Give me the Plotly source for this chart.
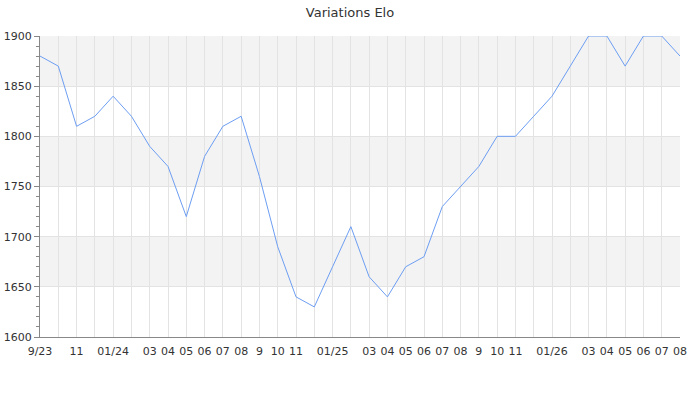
import plotly.graph_objects as go

# monthly Elo, 9/23 .. 08/26
months = list(range(36))
elo = [1880, 1870, 1810, 1820, 1840, 1820, 1790, 1770, 1720, 1780, 1810, 1820,
       1760, 1690, 1640, 1630, 1670, 1710, 1660, 1640, 1670, 1680, 1730, 1750,
       1770, 1800, 1800, 1820, 1840, 1870, 1900, 1900, 1870, 1900, 1900, 1880]
tick_text = ["9/23", "", "11", "", "01/24", "", "03", "04", "05", "06", "07", "08",
             "9", "10", "11", "", "01/25", "", "03", "04", "05", "06", "07", "08",
             "9", "10", "11", "", "01/26", "", "03", "04", "05", "06", "07", "08"]
bands = [(1650, 1700), (1750, 1800), (1850, 1900)]

fig = go.Figure(go.Scatter(x=months, y=elo, mode="lines",
                           line=dict(color="#6d9ef2", width=1),
                           hoverinfo="y"))

for lo, hi in bands:
    fig.add_shape(type="rect", xref="paper", yref="y", x0=0, x1=1, y0=lo, y1=hi,
                  fillcolor="#f3f3f3", line_width=0, layer="below")

fig.update_layout(
    width=700, height=400,
    title=dict(text="Variations Elo", x=0.5, xanchor="center", y=0.97, yanchor="middle",
               font=dict(size=13, color="#333")),
    font=dict(family="DejaVu Sans", size=11, color="#333"),
    margin=dict(l=40, r=20, t=36, b=63, autoexpand=False),
    plot_bgcolor="white", paper_bgcolor="white",
    showlegend=False,
)
fig.update_xaxes(range=[0, 35], tickvals=months, ticktext=tick_text, tickangle=0,
                 showgrid=True, gridcolor="#e3e3e3", gridwidth=1,
                 showline=True, linecolor="#888", linewidth=1,
                 ticks="", ticklabelstandoff=4, zeroline=False, automargin=False)
fig.update_yaxes(range=[1600, 1900], dtick=50, showgrid=True, gridcolor="#e3e3e3",
                 showline=True, linecolor="#888", linewidth=1,
                 ticks="outside", ticklen=5, tickcolor="#888",
                 minor=dict(dtick=10, ticks="outside", ticklen=3, tickcolor="#888", showgrid=False),
                 zeroline=False, automargin=False)

# page has a default body margin; drop it so the figure sits at 0,0
fig.write_html("out.html", config={"displayModeBar": False},
               post_script="document.body.style.margin='0';")
